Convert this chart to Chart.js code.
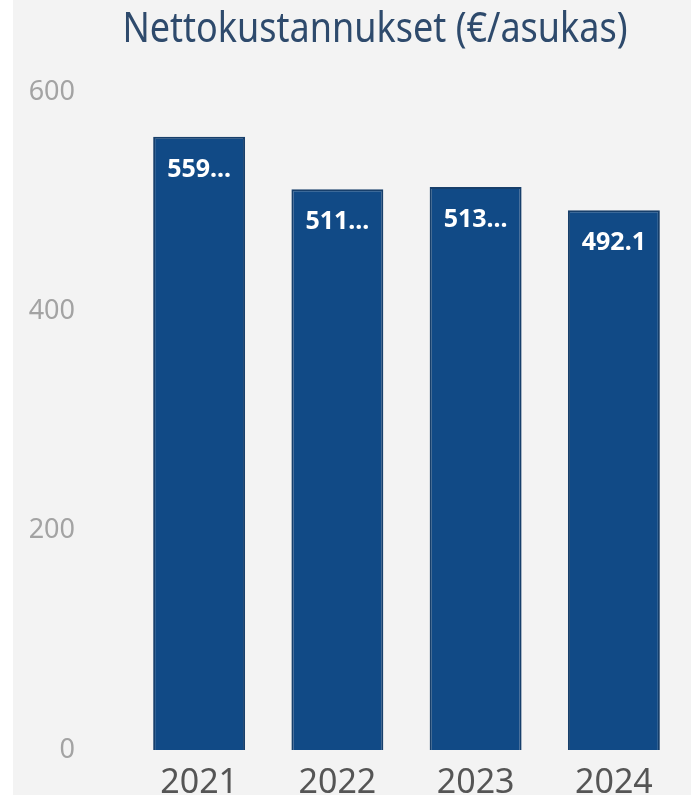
<!DOCTYPE html>
<html>
<head>
<meta charset="utf-8">
<script src="https://cdn.jsdelivr.net/npm/chart.js@4.4.1/dist/chart.umd.min.js"></script>
<style>
  html, body { margin: 0; padding: 0; background: #ffffff; }
  #wrap { width: 691px; height: 795px; }
</style>
</head>
<body>
<div id="wrap"><canvas id="chart" width="691" height="795"></canvas></div>
<script>
const years = ['2021', '2022', '2023', '2024'];
const netCosts = [559.27, 511.36, 513.42, 492.1];
const yTicks = [0, 200, 400, 600];
const chartTitle = 'Nettokustannukset (€/asukas)';

// background: white strip on the left, light grey panel
const panelBg = {
  id: 'panelBg',
  beforeDraw(chart) {
    const ctx = chart.ctx;
    ctx.save();
    ctx.fillStyle = '#ffffff';
    ctx.fillRect(0, 0, chart.width, chart.height);
    ctx.fillStyle = '#f3f3f3';
    ctx.fillRect(13, 0, chart.width - 13, chart.height);
    ctx.restore();
  }
};

// title sits a bit right of the canvas centre, slightly tall like in the report
const titlePlugin = {
  id: 'titlePlugin',
  afterDraw(chart) {
    const ctx = chart.ctx;
    ctx.save();
    ctx.translate(375, 30);
    ctx.scale(1, 1.17);
    ctx.font = '36px "Noto Sans", sans-serif';
    ctx.fillStyle = '#2e4a6c';
    ctx.textAlign = 'center';
    ctx.textBaseline = 'middle';
    ctx.fillText(chartTitle, 0, 0);
    ctx.restore();
  }
};

// value labels inside the top of each bar, cut with an ellipsis if too wide
const barLabels = {
  id: 'barLabels',
  afterDatasetsDraw(chart) {
    const ctx = chart.ctx;
    const meta = chart.getDatasetMeta(0);
    ctx.save();
    ctx.font = 'bold 25px "Noto Sans", sans-serif';
    ctx.fillStyle = '#ffffff';
    ctx.textAlign = 'center';
    ctx.textBaseline = 'middle';
    meta.data.forEach((bar, i) => {
      let txt = String(netCosts[i]);
      const maxW = 78;
      if (ctx.measureText(txt).width > maxW) {
        while (txt.length > 1 && ctx.measureText(txt.replace(/\.$/, '') + '...').width > maxW) {
          txt = txt.slice(0, -1);
        }
        txt = txt.replace(/\.$/, '') + '...';
      }
      ctx.fillText(txt, bar.x, bar.y + 33);
    });
    ctx.restore();
  }
};

new Chart(document.getElementById('chart'), {
  type: 'bar',
  data: {
    labels: years,
    datasets: [{
      data: netCosts,
      backgroundColor: '#114a86',
      borderColor: '#173f6b',
      borderWidth: 2,
      barPercentage: 0.665,
      categoryPercentage: 1
    }]
  },
  options: {
    responsive: false,
    animation: false,
    layout: { padding: { top: 92, right: 8, left: 0, bottom: 0 } },
    plugins: {
      legend: { display: false },
      title: { display: false },
      tooltip: { enabled: false }
    },
    scales: {
      x: {
        grid: { display: false, drawTicks: false },
        border: { display: false },
        ticks: {
          color: '#555555',
          font: { family: 'Noto Sans', size: 34 },
          padding: 13,
          maxRotation: 0
        },
        afterFit(scale) { scale.height = 45; }
      },
      y: {
        min: 0,
        max: 600,
        grid: { display: false, drawTicks: false },
        border: { display: false },
        afterBuildTicks(scale) { scale.ticks = yTicks.map(v => ({ value: v })); },
        ticks: {
          color: '#a3a3a3',
          font: { family: 'Noto Sans', size: 27 },
          padding: 55
        },
        afterFit(scale) {
          scale.width = 130;
          // tick padding should not eat vertical space
          scale.paddingTop = 0;
          scale.paddingBottom = 0;
        }
      }
    }
  },
  plugins: [panelBg, titlePlugin, barLabels]
});
</script>
</body>
</html>
